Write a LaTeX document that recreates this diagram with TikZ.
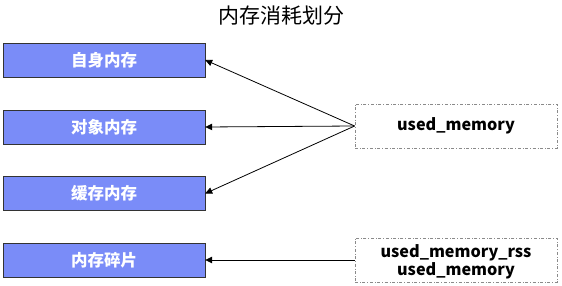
\documentclass[tikz,border=0pt]{standalone}
\usepackage{fontspec}
\setmainfont{Noto Sans CJK SC}
\usepackage{xcolor}
\usetikzlibrary{arrows.meta,positioning}
\definecolor{partblue}{HTML}{7A8CF8}
\definecolor{edgegray}{HTML}{8A8A8A}
\begin{document}
\begin{tikzpicture}[x=1pt,y=-1pt,
    part/.style={draw=black!80,fill=partblue,text=white,font=\bfseries\fontsize{16.5}{18}\selectfont,
      minimum width=202pt,minimum height=34pt,inner sep=0pt},
    metric/.style={draw=edgegray,dash dot,thick,font=\bfseries\fontsize{16.2}{18.5}\selectfont,
      minimum width=202pt,minimum height=44pt,inner sep=0pt,align=center},
    link/.style={-{Triangle[length=7pt,width=6.5pt]},thick}]
  \useasboundingbox (0,0) rectangle (562,286);
  \node (title) at (281,16) {\fontsize{21}{23}\selectfont 内存消耗划分};
  % left column
  \node[part] (self) at (104,60) {自身内存};
  \node[part] (obj) at (104,127) {对象内存};
  \node[part] (buf) at (104,193.5) {缓存内存};
  \node[part] (frag) at (104,260) {内存碎片};
  % right column
  \node[metric] (used) at (456,126) {used\_memory};
  \node[metric,text depth=0pt] (rss) at (456,260) {used\_memory\_rss\\used\_memory};
  \draw[link] (used.west) -- (self.east);
  \draw[link] (used.west) -- (obj.east);
  \draw[link] (used.west) -- (buf.east);
  \draw[link] (rss.west) -- (frag.east);
\end{tikzpicture}
\end{document}
